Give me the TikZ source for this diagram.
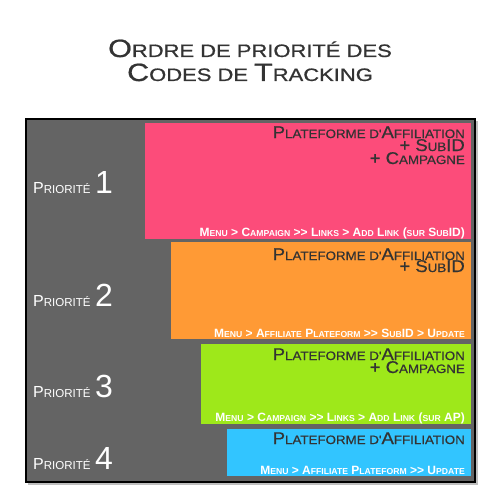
\documentclass[tikz,border=0pt]{standalone}
\usepackage{fontspec}
\setmainfont{Liberation Sans}
\newfontfamily\titlefont[FakeStretch=1.22,FakeBold=0.8]{Liberation Sans}
\newfontfamily\headfont[FakeStretch=1.09,FakeBold=0.6]{Liberation Sans}
\newfontfamily\footfont{Liberation Sans}
\makeatletter
\newcommand\lc[1]{{\fontsize{\fpeval{0.72*\f@size}}{0}\selectfont\MakeUppercase{#1}}}
\makeatother
\definecolor{panel}{HTML}{646464}
\definecolor{pinkbox}{HTML}{FC4C7A}
\definecolor{orangebox}{HTML}{FF9A35}
\definecolor{greenbox}{HTML}{9EE81A}
\definecolor{bluebox}{HTML}{32C5FF}
\definecolor{darktext}{HTML}{333333}
\tikzset{
  title/.style={font=\titlefont\fontsize{25}{26}\selectfont, text=darktext, inner sep=0pt, anchor=base},
  prio/.style={font=\fontsize{16}{16}\selectfont, text=white, inner sep=0pt, anchor=base west},
  head/.style={font=\headfont\fontsize{17}{17}\selectfont, text=darktext, inner sep=0pt, anchor=base east},
  foot/.style={font=\footfont\bfseries\fontsize{12}{12}\selectfont, text=white, inner sep=0pt, anchor=base east}
}
\begin{document}
\begin{tikzpicture}[x=1pt,y=-1pt]
\useasboundingbox (0,0) rectangle (500,500);
\fill[white] (0,0) rectangle (500,500);
% title
\node[title] (t1) at (250,57) {O\lc{rdre de priorité des}};
\node[title] (t2) at (250,81) {C\lc{odes de }T\lc{racking}};
% panel
\fill[black!25] (28,121) rectangle (478,485);
\draw[fill=panel, line width=1.2pt] (26,119) rectangle (475,482);
% boxes
\fill[pinkbox] (145,123) rectangle (471,239);
\fill[orangebox] (171,242) rectangle (471,339);
\fill[greenbox] (201,344) rectangle (471,424);
\fill[bluebox] (227,429) rectangle (471,476);
% priority labels
\node[prio] (p1) at (33,193) {P\lc{riorité} {\fontsize{32}{32}\selectfont 1}};
\node[prio] (p2) at (33,306) {P\lc{riorité} {\fontsize{32}{32}\selectfont 2}};
\node[prio] (p3) at (33,397) {P\lc{riorité} {\fontsize{32}{32}\selectfont 3}};
\node[prio] (p4) at (33,469) {P\lc{riorité} {\fontsize{32}{32}\selectfont 4}};
% box 1
\node[head] (h1a) at (465,138) {P\lc{lateforme d'}A\lc{ffiliation}};
\node[head] (h1b) at (465,151) {+ S\lc{ub}ID};
\node[head] (h1c) at (465,164) {+ C\lc{ampagne}};
\node[foot] (f1) at (465,236) {M\lc{enu} > C\lc{ampaign} >{}> L\lc{inks} > A\lc{dd} L\lc{ink} (\lc{sur} S\lc{ub}ID)};
% box 2
\node[head] (h2a) at (465,260) {P\lc{lateforme d'}A\lc{ffiliation}};
\node[head] (h2b) at (465,272) {+ S\lc{ub}ID};
\node[foot] (f2) at (465,337) {M\lc{enu} > A\lc{ffiliate} P\lc{lateform} >{}> S\lc{ub}ID > U\lc{pdate}};
% box 3
\node[head] (h3a) at (465,360) {P\lc{lateforme d'}A\lc{ffiliation}};
\node[head] (h3b) at (465,373) {+ C\lc{ampagne}};
\node[foot] (f3) at (465,421) {M\lc{enu} > C\lc{ampaign} >{}> L\lc{inks} > A\lc{dd} L\lc{ink} (\lc{sur} AP)};
% box 4
\node[head] (h4a) at (465,444) {P\lc{lateforme d'}A\lc{ffiliation}};
\node[foot] (f4) at (465,474) {M\lc{enu} > A\lc{ffiliate} P\lc{lateform} >{}> U\lc{pdate}};
\end{tikzpicture}
\end{document}
